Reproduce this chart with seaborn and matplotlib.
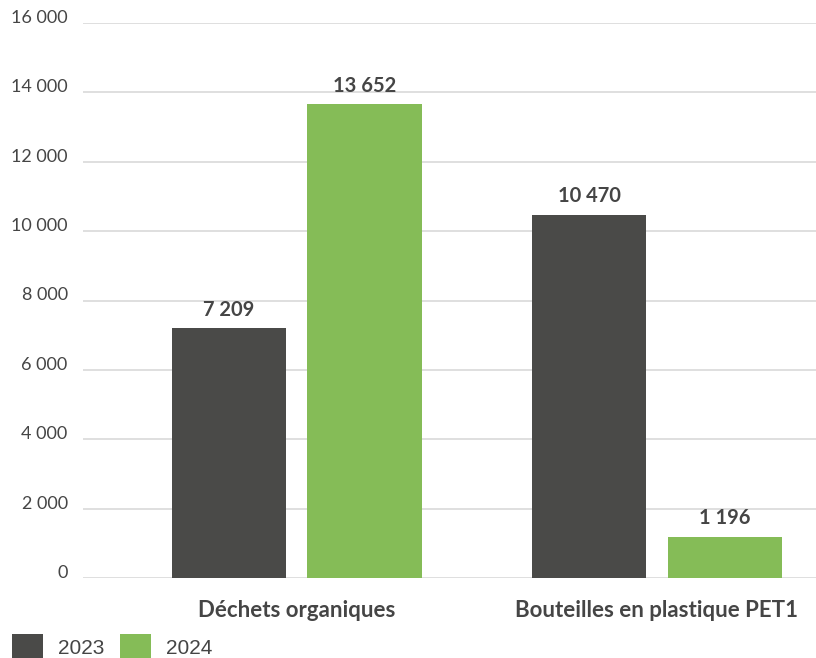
import matplotlib
matplotlib.use("Agg")
import matplotlib.pyplot as plt
import seaborn as sns
import pandas as pd
from matplotlib.patches import Patch

categories = ["Déchets organiques", "Bouteilles en plastique PET1"]
years = ["2023", "2024"]
values_2023 = [7209, 10470]
values_2024 = [13652, 1196]
yticks = [0, 2000, 4000, 6000, 8000, 10000, 12000, 14000, 16000]
colors = ["#4a4a48", "#85bc57"]
text_color = "#454545"

df = pd.DataFrame({
    "cat": categories * 2,
    "year": [years[0]] * 2 + [years[1]] * 2,
    "val": values_2023 + values_2024,
})

sns.set_theme(style="white")
plt.rcParams["font.family"] = ["Lato", "DejaVu Sans"]

W, H = 816, 658
fig = plt.figure(figsize=(W / 100, H / 100), dpi=100)
ax = fig.add_axes([83 / W, 80 / H, (W - 83) / W, (578 - 23) / H])

sns.barplot(data=df, x="cat", y="val", hue="year", palette=colors, order=categories,
            hue_order=years, width=0.753, gap=0.157, ax=ax, legend=False,
            saturation=1, edgecolor="none", linewidth=0)

ax.set_ylim(0, 16000)
ax.set_xlim(-0.594, 1.442)
ax.set_yticks(yticks)
ax.set_yticklabels([f"{v:,}".replace(",", " ") for v in yticks],
                   fontsize=13, color=text_color, va="baseline")
ax.tick_params(axis="y", length=0, pad=11)
ax.tick_params(axis="x", length=0, pad=16)
ax.set_xticks(range(len(categories)))
ax.set_xticklabels(categories, fontsize=16, fontweight="bold", color=text_color)
ax.grid(axis="y", color="#d9d9d9", linewidth=1.2)
ax.set_axisbelow(True)
for s in ax.spines.values():
    s.set_visible(False)
ax.set_xlabel("")
ax.set_ylabel("")

for cont in ax.containers:
    ax.bar_label(cont, labels=[f"{v:,.0f}".replace(",", " ") for v in cont.datavalues],
                 padding=6, fontsize=14.5, fontweight="bold", color=text_color)

handles = [Patch(facecolor=c, edgecolor="none") for c in colors]
fig.legend(handles, years, loc="center left", bbox_to_anchor=(12 / W, 11 / H),
           ncol=2, frameon=False, handlelength=1.5, handleheight=1.6,
           handletextpad=0.72, columnspacing=0.72, borderpad=0, borderaxespad=0,
           prop={"family": ["Liberation Sans"], "size": 15}, labelcolor=text_color)

fig.savefig("out.png", dpi=100)
